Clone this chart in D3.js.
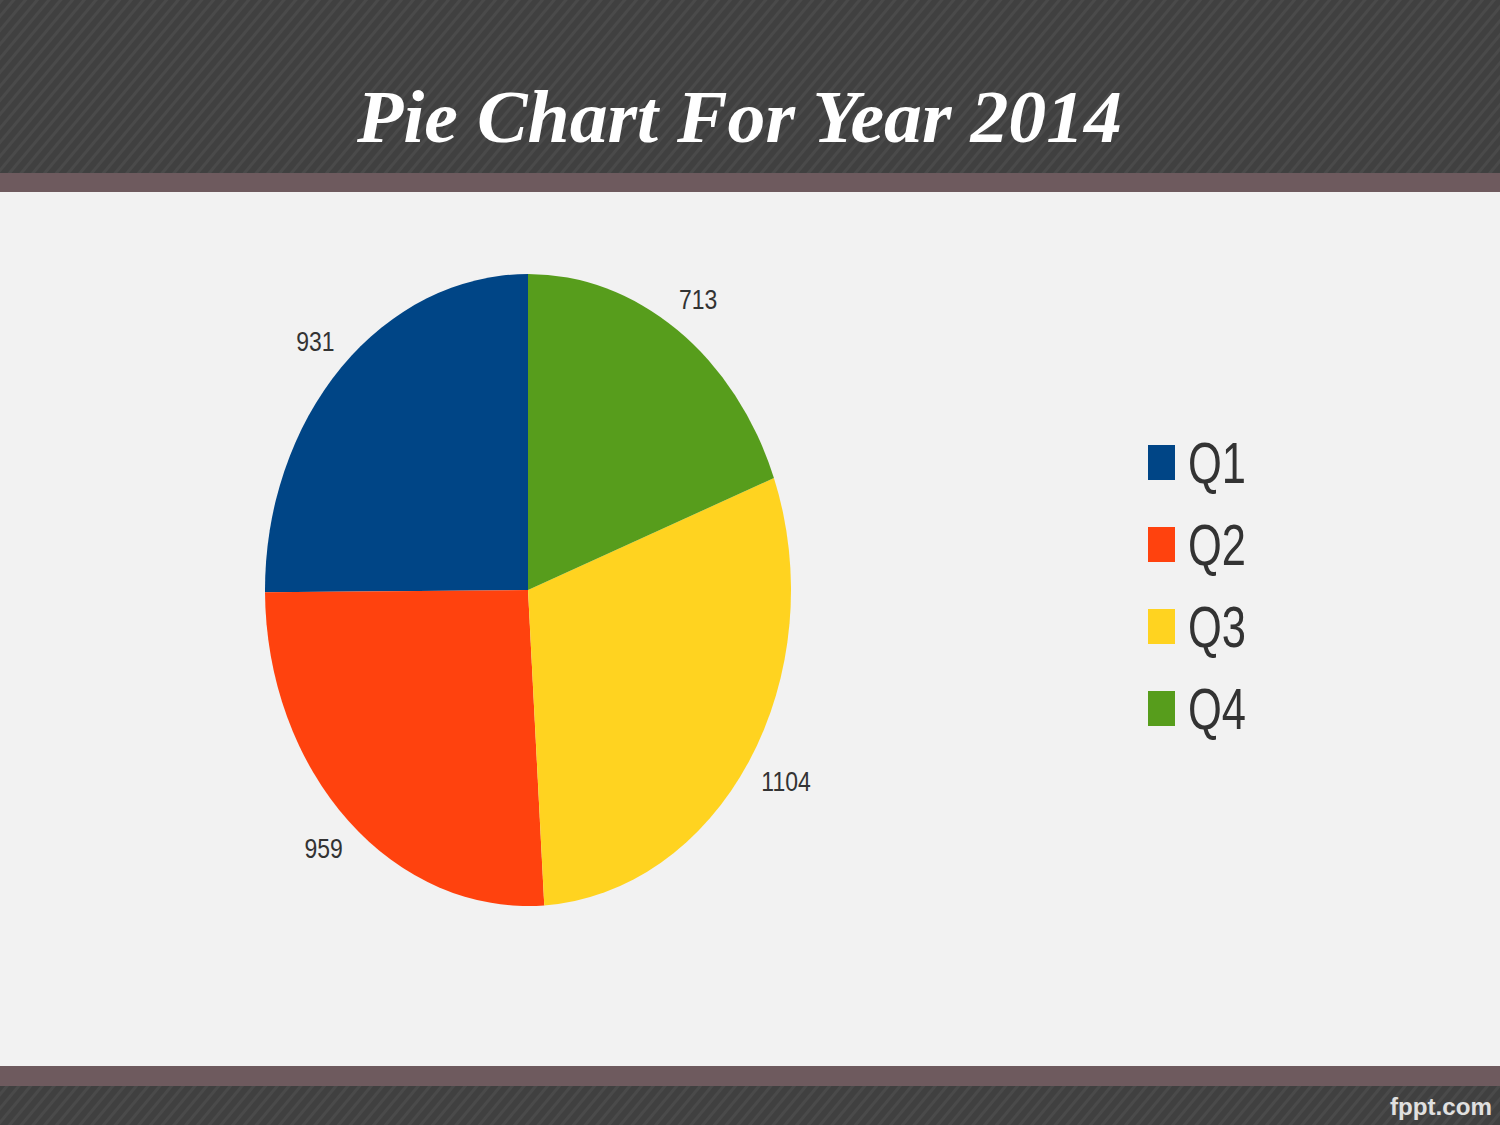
<!DOCTYPE html>
<html>
<head>
<meta charset="utf-8">
<script src="https://cdn.jsdelivr.net/npm/d3@7"></script>
<style>
html,body{margin:0;padding:0;background:#f2f2f2;}
svg{display:block;}
</style>
</head>
<body>
<svg id="chart" width="1500" height="1125"></svg>
<script>
const categories = ["Q1", "Q2", "Q3", "Q4"];
const values = [931, 959, 1104, 713];
const colors = ["#004586", "#ff420e", "#ffd320", "#579d1c"];
const title = "Pie Chart For Year 2014";

const W = 1500, H = 1125;
const svg = d3.select("#chart");

// background
const defs = svg.append("defs");
const pat = defs.append("pattern").attr("id", "stripes").attr("patternUnits", "userSpaceOnUse")
  .attr("width", 9).attr("height", 9).attr("patternTransform", "rotate(40)");
pat.append("rect").attr("width", 9).attr("height", 9).attr("fill", "#404040");
pat.append("rect").attr("width", 3).attr("height", 9).attr("fill", "#4a4a4a");

svg.append("rect").attr("x", 0).attr("y", 0).attr("width", W).attr("height", H).attr("fill", "#f2f2f2");
svg.append("rect").attr("x", 0).attr("y", 0).attr("width", W).attr("height", 173).attr("fill", "url(#stripes)");
svg.append("rect").attr("x", 0).attr("y", 173).attr("width", W).attr("height", 19).attr("fill", "#6e5a5e");
svg.append("rect").attr("x", 0).attr("y", 1066).attr("width", W).attr("height", 20).attr("fill", "#6e5a5e");
svg.append("rect").attr("x", 0).attr("y", 1086).attr("width", W).attr("height", 39).attr("fill", "url(#stripes)");

svg.append("text").attr("x", 1390).attr("y", 1115)
  .attr("font-family", "Liberation Sans, Arial, sans-serif").attr("font-weight", "bold")
  .attr("font-size", 24).attr("fill", "#e0e0e0").attr("textLength", 102).attr("lengthAdjust", "spacingAndGlyphs")
  .text("fppt.com");

// title
svg.append("text").attr("x", 357).attr("y", 142)
  .attr("font-family", "Liberation Serif, Times New Roman, serif")
  .attr("font-weight", "bold").attr("font-style", "italic")
  .attr("font-size", 74).attr("fill", "#ffffff")
  .attr("textLength", 765).attr("lengthAdjust", "spacingAndGlyphs")
  .text(title);

// pie
const cx = 528, cy = 590, rx = 263, ry = 316;
const pie = d3.pie().sort(null).startAngle(0).endAngle(-2 * Math.PI);
const arcs = pie(values);
const arc = d3.arc().innerRadius(0).outerRadius(rx);
const g = svg.append("g").attr("transform", `translate(${cx},${cy}) scale(1,${ry / rx})`);
g.selectAll("path").data(arcs).enter().append("path")
  .attr("d", arc).attr("fill", (d, i) => colors[i]);

// labels: placed a fixed distance outside the ellipse edge
function labelPos(d, i) {
  const a = (d.startAngle + d.endAngle) / 2;
  const s = Math.sin(a), c = Math.cos(a);
  const ex = cx + rx * s, ey = cy - ry * c;
  const off = 37;
  const half = String(values[i]).length * 12.5 / 2;
  return [ex + s * off + Math.sign(s) * (half - 19), ey - c * off];
}
svg.append("g").selectAll("text").data(arcs).enter().append("text")
  .attr("x", (d, i) => labelPos(d, i)[0])
  .attr("y", (d, i) => labelPos(d, i)[1] + 10)
  .attr("text-anchor", "middle")
  .attr("font-family", "Liberation Sans, Arial, sans-serif")
  .attr("font-size", 28).attr("fill", "#333333")
  .attr("transform", (d, i) => {
    const x = labelPos(d, i)[0];
    return `translate(${x},0) scale(0.82,1) translate(${-x},0)`;
  })
  .text((d, i) => values[i]);

// legend
const legend = svg.append("g");
const ly = d3.scaleBand().domain(categories).range([445, 773]).paddingInner(0);
categories.forEach((c, i) => {
  const y = ly(c);
  legend.append("rect").attr("x", 1148).attr("y", y).attr("width", 27).attr("height", 35).attr("fill", colors[i]);
  legend.append("text").attr("x", 1188).attr("y", y + 38)
    .attr("font-family", "Liberation Sans, Arial, sans-serif")
    .attr("font-size", 57).attr("fill", "#333333")
    .attr("textLength", 58).attr("lengthAdjust", "spacingAndGlyphs")
    .text(c);
});
</script>
</body>
</html>
